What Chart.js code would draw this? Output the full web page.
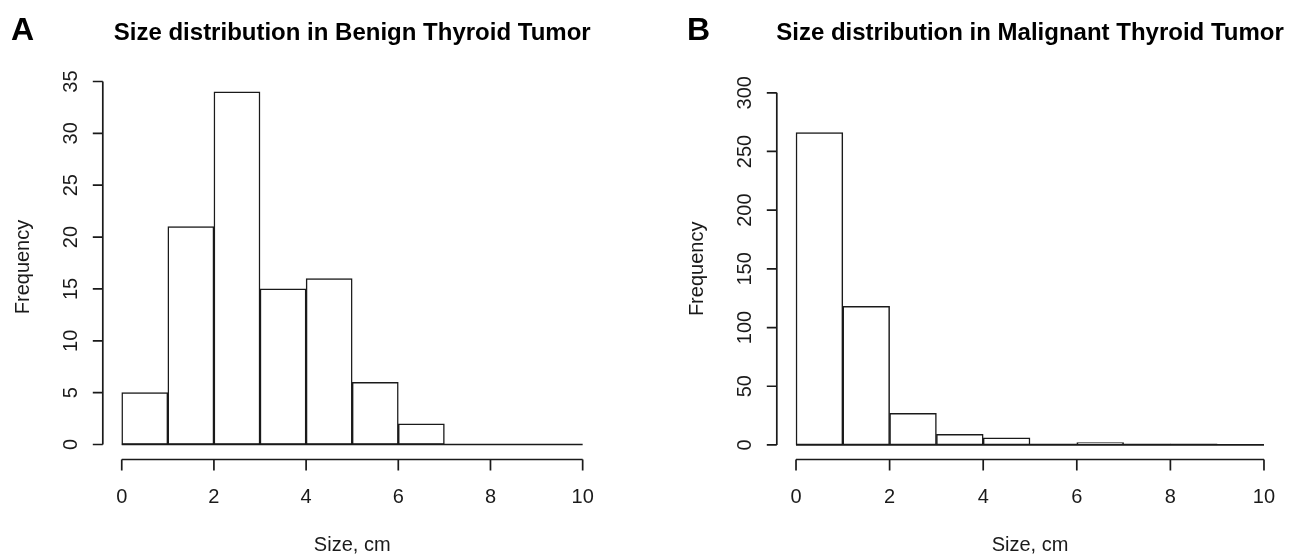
<!DOCTYPE html>
<html><head><meta charset="utf-8">
<script src="https://cdn.jsdelivr.net/npm/chart.js@4/dist/chart.umd.min.js"></script>
<style>
html,body{margin:0;padding:0;background:#fff;overflow:hidden}
#wrap{position:relative;width:1302px;height:555px;background:#fff}
canvas{position:absolute;top:0}
</style></head>
<body>
<div id="wrap">
<canvas id="c1" width="651" height="555" style="left:0px"></canvas>
<canvas id="c2" width="651" height="555" style="left:651px"></canvas>
</div>
<script>
// ---- data ----
const binEdges = [0,1,2,3,4,5,6,7,8,9,10];
const benignCounts = [5,21,34,15,16,6,2,0,0,0];
const malignantCounts = [266,118,27,9,6,1,2,1,1,0];
const xTickLabels = [0,2,4,6,8,10];
const benignYTicks = [0,5,10,15,20,25,30,35];
const malignantYTicks = [0,50,100,150,200,250,300];
const panelLetters = ['A','B'];
const panelTitles = ['Size distribution in Benign Thyroid Tumor','Size distribution in Malignant Thyroid Tumor'];
const xAxisTitle = 'Size, cm';
const yAxisTitle = 'Frequency';

const FONT = "'Liberation Sans', Arial, Helvetica, sans-serif";
const INK = '#1a1a1a';

const rStyle = {
  id: 'rStyle',
  afterDraw(chart, args, o) {
    const ctx = chart.ctx, ca = chart.chartArea;
    const xs = chart.scales.x, ys = chart.scales.y;
    ctx.save();
    ctx.strokeStyle = INK; ctx.fillStyle = INK; ctx.lineWidth = 1.7;
    // baseline (zero-height bins)
    const y0 = ys.getPixelForValue(0);
    ctx.beginPath();
    ctx.moveTo(xs.getPixelForValue(binEdges[0]), y0);
    ctx.lineTo(xs.getPixelForValue(binEdges[binEdges.length-1]), y0);
    ctx.stroke();
    // y axis
    const ax = ca.left - 0.5;
    const yt = o.yTicks;
    ctx.beginPath();
    ctx.moveTo(ax, ys.getPixelForValue(yt[0]));
    ctx.lineTo(ax, ys.getPixelForValue(yt[yt.length-1]));
    yt.forEach(v => { const p = ys.getPixelForValue(v); ctx.moveTo(ax, p); ctx.lineTo(ax - 10, p); });
    ctx.stroke();
    ctx.font = '20px ' + FONT;
    ctx.textAlign = 'center'; ctx.textBaseline = 'alphabetic';
    yt.forEach(v => {
      const p = ys.getPixelForValue(v);
      ctx.save(); ctx.translate(ax - 26, p); ctx.rotate(-Math.PI/2); ctx.fillText(String(v), 0, 0); ctx.restore();
    });
    // y title
    ctx.save(); ctx.translate(ax - 74, (ca.top + ca.bottom)/2 + o.yTitleShift); ctx.rotate(-Math.PI/2);
    ctx.fillText(yAxisTitle, 0, 0); ctx.restore();
    // x axis
    const ay = ca.bottom + 0.5;
    ctx.beginPath();
    ctx.moveTo(xs.getPixelForValue(xTickLabels[0]), ay);
    ctx.lineTo(xs.getPixelForValue(xTickLabels[xTickLabels.length-1]), ay);
    xTickLabels.forEach(v => { const p = xs.getPixelForValue(v); ctx.moveTo(p, ay); ctx.lineTo(p, ay + 11); });
    ctx.stroke();
    xTickLabels.forEach(v => ctx.fillText(String(v), xs.getPixelForValue(v), 503));
    const cx = (xs.getPixelForValue(xTickLabels[0]) + xs.getPixelForValue(xTickLabels[xTickLabels.length-1]))/2;
    ctx.fillText(xAxisTitle, cx, 551);
    // title
    ctx.fillStyle = '#000';
    ctx.font = 'bold 24px ' + FONT;
    ctx.fillText(o.title, (ca.left + ca.right)/2, 40);
    // panel letter
    ctx.textAlign = 'left';
    ctx.font = 'bold 32px ' + FONT;
    ctx.fillText(o.letter, o.letterX, 40);
    ctx.restore();
  }
};

function makePanel(id, counts, yTicks, yMin, yMax, pad, letter, letterX, title, yTitleShift) {
  const pts = counts.map((c, i) => ({ x: (binEdges[i] + binEdges[i+1]) / 2, y: c }));
  return new Chart(document.getElementById(id), {
    type: 'bar',
    data: { datasets: [{
      data: pts,
      backgroundColor: '#ffffff',
      borderColor: INK,
      borderWidth: 1.5,
      borderSkipped: false,
      barPercentage: 1,
      categoryPercentage: 1,
      grouped: false
    }]},
    options: {
      responsive: false, animation: false, devicePixelRatio: 1,
      layout: { padding: pad },
      scales: {
        x: { type: 'linear', display: false, offset: false, min: -0.4, max: 10.4 },
        y: { type: 'linear', display: false, min: yMin, max: yMax }
      },
      plugins: {
        legend: { display: false }, tooltip: { enabled: false }, title: { display: false },
        rStyle: { yTicks, letter, letterX, title, yTitleShift }
      }
    },
    plugins: [rStyle]
  });
}

makePanel('c1', benignCounts, benignYTicks, -1.4, 36.4,
  { left: 103.3, right: 49.9, top: 67, bottom: 96 }, panelLetters[0], 11, panelTitles[0], 4);
makePanel('c2', malignantCounts, malignantYTicks, -12, 312,
  { left: 126.3, right: 19.3, top: 78.7, bottom: 96 }, panelLetters[1], 36, panelTitles[1], 0);
</script>
</body></html>
